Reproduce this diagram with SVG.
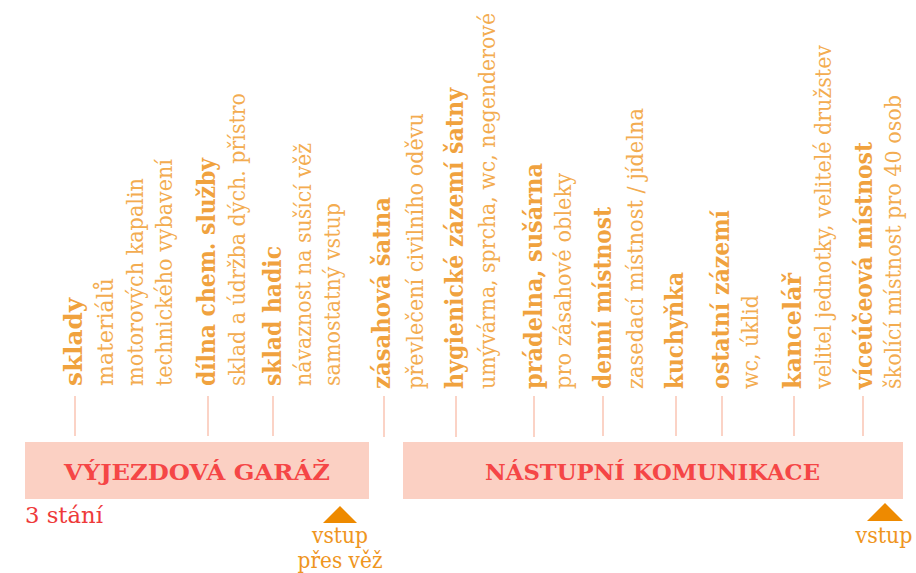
<svg xmlns="http://www.w3.org/2000/svg" width="916" height="573" viewBox="0 0 916 573">
<style>
.b{font-family:"DejaVu Serif",serif;font-weight:bold;font-size:24px;fill:#f0a23e}
.r{font-family:"DejaVu Serif",serif;font-size:23px;fill:#f3ac50}
.bar{fill:#fbd0c3}
.title{font-family:"DejaVu Serif",serif;font-weight:bold;font-size:23px;fill:#f54646}
.tick{stroke:#fbd3c6;stroke-width:2}
.entry{fill:#ee8a00}
.et{font-family:"DejaVu Serif",serif;font-size:22px;fill:#ef9520;text-anchor:middle}
</style>
<rect width="916" height="573" fill="#ffffff"/>
<g id="connectors">
<line class="tick" x1="75" y1="396" x2="75" y2="436"/>
<line class="tick" x1="208" y1="396" x2="208" y2="436"/>
<line class="tick" x1="273" y1="396" x2="273" y2="436"/>
<line class="tick" x1="384" y1="396" x2="384" y2="437"/>
<line class="tick" x1="456" y1="396" x2="456" y2="437"/>
<line class="tick" x1="534" y1="396" x2="534" y2="437"/>
<line class="tick" x1="603" y1="396" x2="603" y2="436"/>
<line class="tick" x1="676" y1="396" x2="676" y2="436"/>
<line class="tick" x1="722" y1="396" x2="722" y2="436"/>
<line class="tick" x1="794" y1="396" x2="794" y2="436"/>
<line class="tick" x1="863" y1="396" x2="863" y2="436"/>
</g>
<g id="garaz">
<rect class="bar" x="25" y="442" width="344" height="57"/>
<text class="title" x="197" y="480" text-anchor="middle" textLength="266" lengthAdjust="spacingAndGlyphs">VÝJEZDOVÁ  GARÁŽ</text>
<text x="25" y="523" font-family="DejaVu Serif, serif" font-size="22" fill="#ee3a3a" textLength="78" lengthAdjust="spacingAndGlyphs">3 stání</text>
</g>
<g id="komunikace">
<rect class="bar" x="403" y="442" width="500" height="57"/>
<text class="title" x="485" y="480" textLength="335" lengthAdjust="spacingAndGlyphs">NÁSTUPNÍ KOMUNIKACE</text>
</g>
<g id="vstup-vez">
<polygon class="entry" points="340,506 357,523 323,523"/>
<text class="et" x="340" y="543" textLength="56" lengthAdjust="spacingAndGlyphs">vstup</text>
<text class="et" x="340" y="568" textLength="85" lengthAdjust="spacingAndGlyphs">přes věž</text>
</g>
<g id="vstup">
<polygon class="entry" points="885,503 903,521 867,521"/>
<text class="et" x="884" y="543" textLength="57" lengthAdjust="spacingAndGlyphs">vstup</text>
</g>
<g id="sklady">
<text class="b" transform="translate(82,386) rotate(-90)" textLength="88" lengthAdjust="spacingAndGlyphs">sklady</text>
<text class="r" transform="translate(113,386) rotate(-90)" textLength="108" lengthAdjust="spacingAndGlyphs">materiálů</text>
<text class="r" transform="translate(143,386) rotate(-90)" textLength="208" lengthAdjust="spacingAndGlyphs">motorových kapalin</text>
<text class="r" transform="translate(172,386) rotate(-90)" textLength="227" lengthAdjust="spacingAndGlyphs">technického vybavení</text>
</g>
<g id="dilna">
<text class="b" transform="translate(215,386) rotate(-90)" textLength="228" lengthAdjust="spacingAndGlyphs">dílna chem. služby</text>
<text class="r" transform="translate(245,386) rotate(-90)" textLength="293" lengthAdjust="spacingAndGlyphs">sklad a údržba dých. přístro</text>
</g>
<g id="sklad-hadic">
<text class="b" transform="translate(281,386) rotate(-90)" textLength="140" lengthAdjust="spacingAndGlyphs">sklad hadic</text>
<text class="r" transform="translate(311,386) rotate(-90)" textLength="243" lengthAdjust="spacingAndGlyphs">návaznost na sušící věž</text>
<text class="r" transform="translate(340,386) rotate(-90)" textLength="183" lengthAdjust="spacingAndGlyphs">samostatný vstup</text>
</g>
<g id="zasahova-satna">
<text class="b" transform="translate(390,389) rotate(-90)" textLength="192" lengthAdjust="spacingAndGlyphs">zásahová šatna</text>
<text class="r" transform="translate(423,389) rotate(-90)" textLength="276" lengthAdjust="spacingAndGlyphs">převlečení civilního oděvu</text>
</g>
<g id="hygienicke">
<text class="b" transform="translate(463,389) rotate(-90)" textLength="301" lengthAdjust="spacingAndGlyphs">hygienické zázemí šatny</text>
<text class="r" transform="translate(495,389) rotate(-90)" textLength="376" lengthAdjust="spacingAndGlyphs">umývárna, sprcha, wc, negenderové</text>
</g>
<g id="pradelna">
<text class="b" transform="translate(542,389) rotate(-90)" textLength="226" lengthAdjust="spacingAndGlyphs">prádelna, sušárna</text>
<text class="r" transform="translate(571,389) rotate(-90)" textLength="216" lengthAdjust="spacingAndGlyphs">pro zásahové obleky</text>
</g>
<g id="denni-mistnost">
<text class="b" transform="translate(611,389) rotate(-90)" textLength="182" lengthAdjust="spacingAndGlyphs">denní místnost</text>
<text class="r" transform="translate(643,389) rotate(-90)" textLength="281" lengthAdjust="spacingAndGlyphs">zasedací místnost / jídelna</text>
</g>
<g id="kuchynka">
<text class="b" transform="translate(683,389) rotate(-90)" textLength="117" lengthAdjust="spacingAndGlyphs">kuchyňka</text>
</g>
<g id="ostatni-zazemi">
<text class="b" transform="translate(729,389) rotate(-90)" textLength="179" lengthAdjust="spacingAndGlyphs">ostatní zázemí</text>
<text class="r" transform="translate(758,389) rotate(-90)" textLength="94" lengthAdjust="spacingAndGlyphs">wc, úklid</text>
</g>
<g id="kancelar">
<text class="b" transform="translate(801,389) rotate(-90)" textLength="116" lengthAdjust="spacingAndGlyphs">kancelář</text>
<text class="r" transform="translate(831,389) rotate(-90)" textLength="344" lengthAdjust="spacingAndGlyphs">velitel jednotky, velitelé družstev</text>
</g>
<g id="viceucelova">
<text class="b" transform="translate(872,389) rotate(-90)" textLength="247" lengthAdjust="spacingAndGlyphs">víceúčeová místnost</text>
<text class="r" transform="translate(901,389) rotate(-90)" textLength="294" lengthAdjust="spacingAndGlyphs">školící místnost pro 40 osob</text>
</g>
</svg>
